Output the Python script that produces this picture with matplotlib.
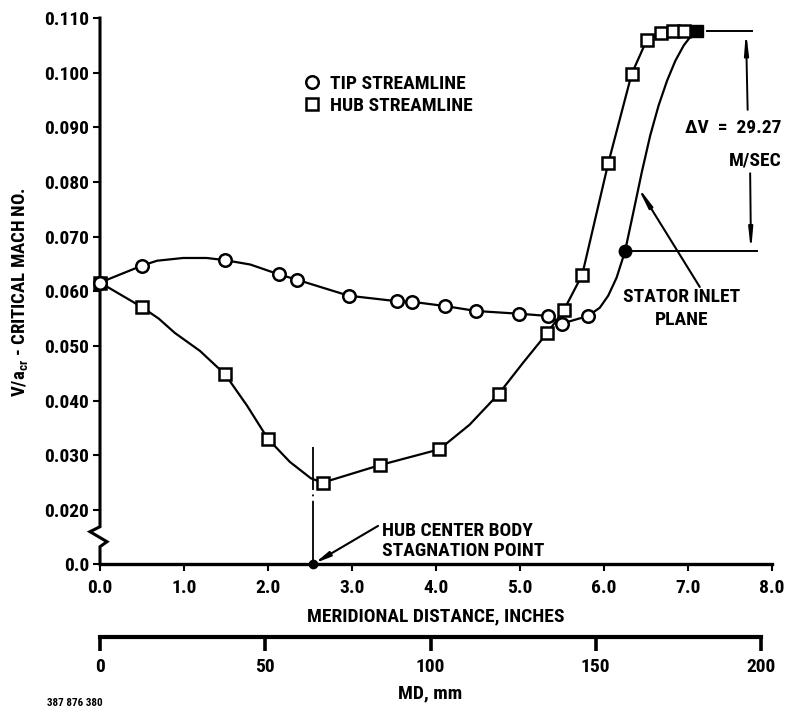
import numpy as np
import matplotlib
matplotlib.use("Agg")
import matplotlib.pyplot as plt
from matplotlib import font_manager
from matplotlib.lines import Line2D

# pick the narrowest bold sans that is installed
installed = {f.name for f in font_manager.fontManager.ttflist}
FAMILY = "DejaVu Sans"
FS = 11.5
for cand, size in (("Liberation Sans Narrow", 13.5), ("Arial Narrow", 13.5),
                   ("Roboto Condensed", 14), ("Liberation Sans", 11.5)):
    if cand in installed:
        FAMILY, FS = cand, size
        break

plt.rcParams["font.family"] = [FAMILY, "DejaVu Sans"]
plt.rcParams["font.weight"] = "bold"
plt.rcParams["mathtext.fontset"] = "custom"
for k in ("rm", "it", "bf"):
    plt.rcParams["mathtext." + k] = FAMILY + ":bold"

# tip streamline (circles)
tip_x = [0.0, 0.50, 1.49, 2.13, 2.35, 2.96, 3.53, 3.71, 4.11, 4.48, 4.99, 5.33, 5.50, 5.81]
tip_y = [0.0616, 0.0647, 0.0657, 0.0631, 0.0621, 0.0592, 0.0582, 0.0581, 0.0573,
         0.0564, 0.0559, 0.0555, 0.0541, 0.0555]
# extra points (no markers)
tip_curve_x = [0.68, 0.99, 1.27, 1.79, 5.95, 6.05, 6.15, 6.25, 6.35, 6.45, 6.55,
               6.65, 6.75, 6.85, 6.95, 7.03, 7.11]
tip_curve_y = [0.0656, 0.0661, 0.0661, 0.0649, 0.0570, 0.0592, 0.0625, 0.0673,
               0.0745, 0.0818, 0.0885, 0.0940, 0.0985, 0.1022, 0.1050, 0.1066, 0.1076]

# hub streamline (squares)
hub_x = [0.0, 0.50, 1.49, 2.00, 2.65, 3.33, 4.04, 4.75, 5.32, 5.52, 5.74, 6.05,
         6.33, 6.51, 6.68, 6.82, 6.95]
hub_y = [0.0616, 0.0571, 0.0448, 0.0330, 0.0250, 0.0282, 0.0311, 0.0413, 0.0523,
         0.0565, 0.0630, 0.0834, 0.0998, 0.1060, 0.1072, 0.1076, 0.1076]
hub_curve_x = [0.70, 0.89, 1.19, 1.75, 2.26, 2.51, 4.40, 5.04, 7.11]
hub_curve_y = [0.0550, 0.0524, 0.0491, 0.0391, 0.0288, 0.0258, 0.0356, 0.0470, 0.1076]

stator_pt = (6.25, 0.0673)
exit_pt = (7.11, 0.1076)
stag_pt = (2.54, 0.0)
stag_line_top = 0.0316

x_ticks = [0, 1, 2, 3, 4, 5, 6, 7, 8]
x_labels = ["0.0", "1.0", "2.0", "3.0", "4.0", "5.0", "6.0", "7.0", "8.0"]
y_ticks = [0.0, 0.02, 0.03, 0.04, 0.05, 0.06, 0.07, 0.08, 0.09, 0.10, 0.11]
y_labels = ["0.0", "0.020", "0.030", "0.040", "0.050", "0.060", "0.070",
            "0.080", "0.090", "0.100", "0.110"]
mm_ticks = [0, 50, 100, 150, 200]

# broken y axis: 0 .. 0.02 squeezed to about one tick step
K = 0.494


def fwd(v):
    v = np.asarray(v, dtype=float)
    return np.where(v >= 0.02, v, 0.02 - (0.02 - v) * K)


def inv(u):
    u = np.asarray(u, dtype=float)
    return np.where(u >= 0.02, u, 0.02 - (0.02 - u) / K)


def merged(xs, ys, xs2, ys2):
    x = np.array(xs + xs2)
    y = np.array(ys + ys2)
    o = np.argsort(x, kind="stable")
    return x[o], y[o]


W, H = 801, 707
fig = plt.figure(figsize=(W / 100, H / 100), dpi=100)
ax = fig.add_axes([100 / W, (H - 564) / H, 672 / W, 546 / H])
ax.set_yscale("function", functions=(fwd, inv))
ax.set_xlim(0, 8)
ax.set_ylim(0, 0.110)

lw = 1.6

tx, ty = merged(tip_x, tip_y, tip_curve_x, tip_curve_y)
hx, hy = merged(hub_x, hub_y, hub_curve_x, hub_curve_y)
ax.plot(tx, ty, color="k", lw=lw, zorder=2, clip_on=False, solid_joinstyle="round")
ax.plot(hx, hy, color="k", lw=lw, zorder=2, clip_on=False, solid_joinstyle="round")
ax.plot(tip_x, tip_y, "o", ms=9, mfc="white", mec="k", mew=1.8, zorder=4, clip_on=False)
ax.plot(hub_x, hub_y, "s", ms=8.5, mfc="white", mec="k", mew=1.8, zorder=3, clip_on=False)
ax.plot(*stator_pt, "o", ms=9, color="k", zorder=5)
ax.plot(*exit_pt, "s", ms=8.5, color="k", zorder=5)

# stagnation point
ax.plot([stag_pt[0], stag_pt[0]], [stag_pt[1], stag_line_top], color="k", lw=1.3,
        linestyle=(0, (35, 2.5, 1, 2.5)), zorder=1)
ax.plot(*stag_pt, "o", ms=6, color="k", zorder=5, clip_on=False)
ax.annotate("", xy=stag_pt, xytext=(3.31, 0.0141),
            arrowprops=dict(arrowstyle="-|>,head_length=0.9,head_width=0.15",
                            lw=1.5, color="k", shrinkA=0, shrinkB=1))
ax.text(3.36, 0.0085, "HUB CENTER BODY\nSTAGNATION POINT", fontsize=FS,
        ha="left", va="center", linespacing=1.15)

# delta V dimension
ax.plot([7.23, 7.76], [exit_pt[1], exit_pt[1]], color="k", lw=1.4)
ax.plot([6.35, 7.82], [stator_pt[1], stator_pt[1]], color="k", lw=1.4)
arrow_kw = dict(arrowstyle="-|>,head_length=1.2,head_width=0.12", lw=1.4,
                color="k", shrinkA=0, shrinkB=0)
ax.annotate("", xy=(7.69, exit_pt[1]), xytext=(7.71, 0.0932), arrowprops=arrow_kw)
ax.annotate("", xy=(7.75, stator_pt[1]), xytext=(7.74, 0.0816), arrowprops=arrow_kw)
ax.text(8.11, 0.0899, "\u0394V  =  29.27", fontsize=FS, ha="right", va="center")
ax.text(8.11, 0.0840, "M/SEC", fontsize=FS, ha="right", va="center")

# stator inlet plane
ax.annotate("", xy=(6.39, 0.0794), xytext=(7.14, 0.0608),
            arrowprops=dict(arrowstyle="-|>,head_length=1.2,head_width=0.12",
                            lw=1.5, color="k", shrinkA=0, shrinkB=0))
ax.text(6.92, 0.0569, "STATOR INLET\nPLANE", fontsize=FS, ha="center", va="center",
        linespacing=1.35)

# legend
handles = [
    Line2D([], [], ls="none", marker="o", ms=9, mfc="white", mec="k", mew=1.8),
    Line2D([], [], ls="none", marker="s", ms=8.5, mfc="white", mec="k", mew=1.8),
]
ax.legend(handles, ["TIP STREAMLINE", "HUB STREAMLINE"], frameon=False,
          loc="upper left", bbox_to_anchor=(0.29, 0.91), handlelength=1.0,
          handletextpad=0.4, labelspacing=0.2, borderaxespad=0,
          prop={"size": FS, "weight": "bold"})

# axes styling
for s in ("top", "right", "left"):
    ax.spines[s].set_visible(False)
ax.spines["bottom"].set_linewidth(2.4)
ax.set_xticks(x_ticks)
ax.set_xticklabels(x_labels)
ax.set_yticks(y_ticks)
ax.set_yticklabels(y_labels)
ax.minorticks_off()
ax.tick_params(axis="both", direction="out", length=5, width=1.5, labelsize=FS)
ax.tick_params(axis="x", pad=6)
ax.tick_params(axis="y", pad=3)

# hand-drawn y axis with a break
ya = [1.0, 0.0683, 0.0592, 0.0408, 0.0317, 0.0]
xa = [0.0, 0.0, -0.0149, 0.0104, 0.0, 0.0]
ax.plot(xa, ya, transform=ax.transAxes, color="k", lw=2.2, clip_on=False,
        solid_joinstyle="miter")

# mm scale below
ax2 = fig.add_axes([100 / W, (H - 637) / H, 661 / W, 0.0001])
ax2.set_xlim(0, 200)
ax2.set_yticks([])
for s in ("top", "right", "left"):
    ax2.spines[s].set_visible(False)
ax2.spines["bottom"].set_linewidth(3)
ax2.set_xticks(mm_ticks)
ax2.set_xticklabels([str(m) for m in mm_ticks])
ax2.tick_params(axis="x", direction="out", length=10, width=2.6, labelsize=FS, pad=5)
ax2.patch.set_visible(False)

fig.text(436 / W, 1 - 616 / H, "MERIDIONAL DISTANCE, INCHES", fontsize=FS,
         ha="center", va="center")
fig.text(430 / W, 1 - 693 / H, "MD, mm", fontsize=FS, ha="center", va="center")
fig.text(20 / W, 1 - 292 / H, "V/a$_{cr}$ - CRITICAL MACH NO.", fontsize=FS - 0.5,
         rotation=90, ha="center", va="center")
fig.text(47 / W, 4 / H, "387 876 380", fontsize=8, ha="left", va="center")

fig.savefig("out.png", dpi=100, facecolor="white")
